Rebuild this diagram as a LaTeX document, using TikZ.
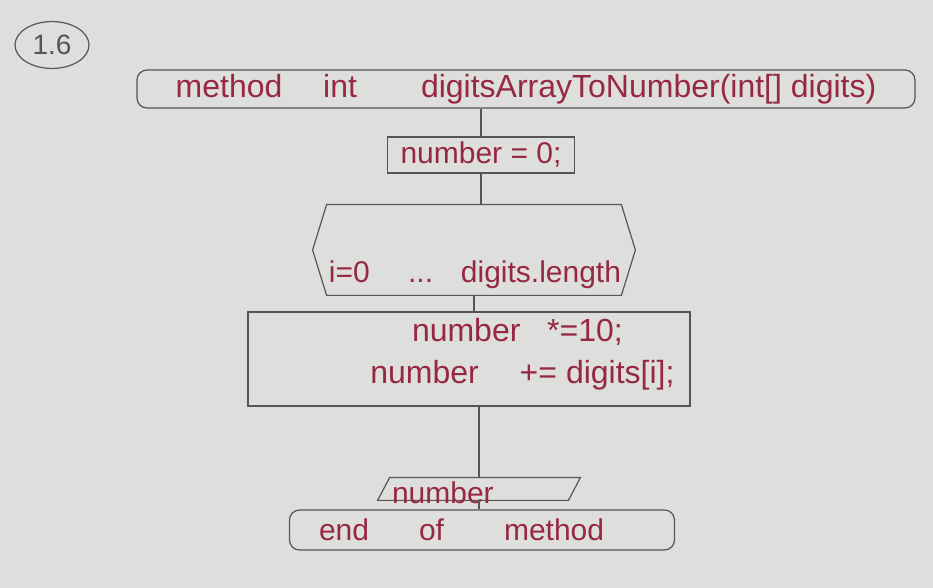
\documentclass[tikz,border=0pt]{standalone}
\usepackage{fontspec}
\newfontfamily\handfont{Liberation Sans}
\usetikzlibrary{shapes.geometric,positioning}
\definecolor{paper}{RGB}{222,222,220}
\definecolor{pencil}{RGB}{85,85,85}
\definecolor{inkred}{RGB}{150,40,70}
\tikzset{
  ink/.style={text=inkred, font=\handfont\fontsize{15}{19}\selectfont},
  box/.style={draw=pencil, line width=0.6pt, rectangle, inner sep=0pt},
  roundbox/.style={box, rounded corners=5pt},
  wire/.style={draw=pencil, line width=0.6pt}
}
\begin{document}
\begin{tikzpicture}[x=0.5pt, y=-0.5pt]
   \useasboundingbox (0,0) rectangle (933,588);
   \fill[paper] (0,0) rectangle (933,588);
   % task number
   \node[draw=pencil, line width=0.6pt, ellipse, minimum width=37pt, minimum height=21pt,
     text=pencil, font=\handfont\fontsize{14}{16}\selectfont] (task) at (52,45) {1.6};
   % method header
   \node[roundbox, ink, font=\handfont\fontsize{16}{19}\selectfont, minimum width=389pt,
     minimum height=19pt] (method) at (526,89)
     {method\quad\ int\quad\quad digitsArrayToNumber(int[] digits)};
   \node[box, ink, minimum width=93.5pt, minimum height=18pt] (init) at (481,155) {number = 0;};
   % loop
   \node[minimum width=161pt, minimum height=45pt, inner sep=0pt] (loop) at (474,250) {};
   \draw[wire] (loop.west) -- ([xshift=7pt]loop.north west) -- ([xshift=-7pt]loop.north east)
     -- (loop.east) -- ([xshift=-7pt]loop.south east) -- ([xshift=7pt]loop.south west) -- cycle;
   \node[ink, inner sep=0pt] (looptext) at (475,275) {i=0 \quad ... \ \ digits.length};
   % body
   \node[box, minimum width=221pt, minimum height=47pt] (body) at (469,359) {};
   \node[ink, font=\handfont\fontsize{16}{20}\selectfont, align=left, anchor=north west,
     inner sep=0pt] (bodytext) at (370,318)
     {\hspace*{1.3em}number \ \ *=10;\\[1pt]number \quad += digits[i];};
   % output
   \node[minimum width=101pt, minimum height=11pt, inner sep=0pt] (out) at (479,489) {};
   \draw[wire] (out.south west) -- ([xshift=6pt]out.north west) -- (out.north east)
     -- ([xshift=-6pt]out.south east) -- cycle;
   \node[ink, anchor=west, inner sep=0pt] (outtext) at ([xshift=7pt,yshift=-2pt]out.west) {number};
   % end
   \node[roundbox, ink, minimum width=192.5pt, minimum height=20pt, text width=175pt,
     align=left] (endm) at (482,530) {\hspace*{0.4em}end\quad\ \ of\quad\quad method};
   % connectors
   \draw[wire] (init.north) -- (init.north |- method.south);
   \draw[wire] (init.south) -- (init.south |- loop.north);
   \draw[wire] (loop.south) -- (loop.south |- body.north);
   \draw[wire] (out.north) -- (out.north |- body.south);
   \draw[wire] (out.south) -- (out.south |- endm.north);
\end{tikzpicture}
\end{document}
